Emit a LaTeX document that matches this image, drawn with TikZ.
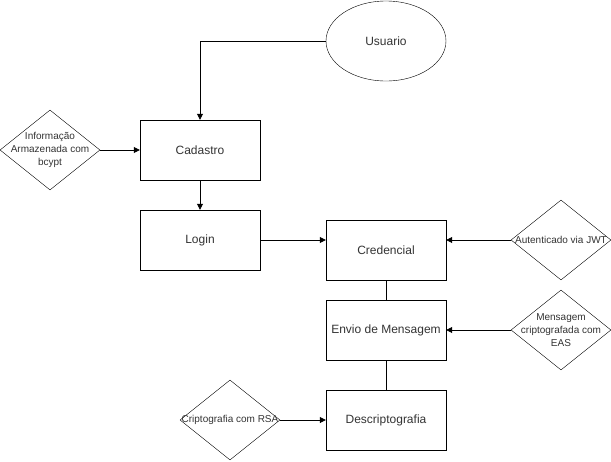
\documentclass[tikz,border=0pt]{standalone}
\usepackage{fontspec}
\setmainfont{Liberation Sans}
\usetikzlibrary{arrows.meta,shapes.geometric}
\definecolor{txtgray}{HTML}{333333}
\tikzset{
  bloco/.style={draw, minimum width=120pt, minimum height=60pt, inner sep=0pt, font=\fontsize{12}{14}\selectfont, text=txtgray},
  losango/.style={draw, diamond, minimum width=100pt, minimum height=80pt, inner sep=0pt},
  rotulo/.style={font=\fontsize{10}{13}\selectfont, text=txtgray, align=center, inner sep=0pt},
  seta/.style={-{Triangle[length=6pt,width=6pt]}, line width=0.8pt},
  liga/.style={line width=0.8pt}
}
\begin{document}
\begin{tikzpicture}[x=1pt,y=-1pt]
			%%%%% START %%%%%
			\useasboundingbox (0,0) rectangle (611,461);
			
			\node[draw, ellipse, minimum width=120pt, minimum height=80pt, inner sep=0pt, font=\fontsize{12}{14}\selectfont, text=txtgray] (usuario) at (386, 41) {Usuario};
			
			\node[bloco] (cadastro) at (200, 150) {Cadastro};
			\node[bloco] (login) at (200, 240) {Login};
			\node[bloco] (credencial) at (386, 250) {Credencial};
			\node[bloco] (envio) at (386, 330) {Envio de Mensagem};
			\node[bloco] (descript) at (386, 420) {Descriptografia};
			
			\node[losango, label={[rotulo]center:Informação\\Armazenada com\\bcypt}] (bcypt) at (50, 150) {};
			\node[losango, label={[rotulo]center:Autenticado via JWT}] (jwt) at (561, 240) {};
			\node[losango, label={[rotulo]center:Mensagem\\criptografada com\\EAS}] (eas) at (561, 330) {};
			\node[losango, label={[rotulo]center:Criptografia com RSA}] (rsa) at (230, 420) {};
			
			\draw[seta] (usuario.west) -| (cadastro.north);
			\draw[seta] (bcypt.east) -- (cadastro.west);
			\draw[seta] (cadastro.south) -- (login.north);
			\draw[seta] (login.east) -- (login.east -| credencial.west);
			\draw[seta] (jwt.west) -- (jwt.west -| credencial.east);
			\draw[seta] (eas.west) -- (envio.east);
			\draw[liga] (credencial.south) -- (envio.north);
			\draw[liga] (envio.south) -- (descript.north);
			\draw[seta] (rsa.east) -- (descript.west);
			
			%%%%% END %%%%%
		\end{tikzpicture}
\end{document}
